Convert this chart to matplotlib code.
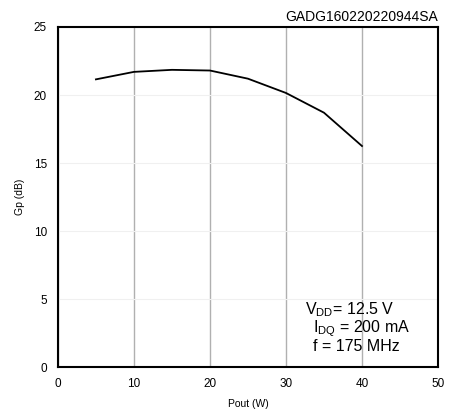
import matplotlib as mpl
import matplotlib.pyplot as plt

mpl.use('Agg')
plt.rcParams['font.family'] = ['Liberation Sans', 'DejaVu Sans']
plt.rcParams['mathtext.fontset'] = 'custom'
plt.rcParams['mathtext.rm'] = 'Liberation Sans'

pout = [5, 10, 15, 20, 25, 30, 35, 40]
gp = [21.15, 21.7, 21.85, 21.8, 21.2, 20.15, 18.7, 16.25]

fig = plt.figure(figsize=(4.49, 4.12), dpi=100)
ax = fig.add_axes([0.129, 0.109, 0.8465, 0.8255])
ax.plot(pout, gp, color='black', lw=1.3)
ax.set_xlim(0, 50)
ax.set_ylim(0, 25)
ax.set_xticks(range(0, 51, 10))
ax.set_yticks(range(0, 26, 5))
ax.xaxis.grid(True, color='#b0b0b0', lw=1)
ax.yaxis.grid(True, color='#f0f0f0', lw=0.8)
ax.set_axisbelow(True)
for s in ax.spines.values():
    s.set_linewidth(1.5)
ax.tick_params(length=0, labelsize=8.5, pad=8)
ax.set_xlabel('Pout (W)', fontsize=7.5, labelpad=6)
ax.set_ylabel('Gp (dB)', fontsize=7.5, labelpad=6)
ax.text(1.0, 1.01, 'GADG160220220944SA', transform=ax.transAxes,
        ha='right', va='bottom', fontsize=10)
ax.text(0.65, 0.168, 'V$_\\mathregular{DD}$= 12.5 V', transform=ax.transAxes,
        fontsize=11.5, va='center')
ax.text(0.672, 0.114, 'I$_\\mathregular{DQ}$ = 200 mA', transform=ax.transAxes,
        fontsize=11.5, va='center')
ax.text(0.67, 0.060, 'f = 175 MHz', transform=ax.transAxes,
        fontsize=11.5, va='center')
fig.savefig('out.png', dpi=100)
